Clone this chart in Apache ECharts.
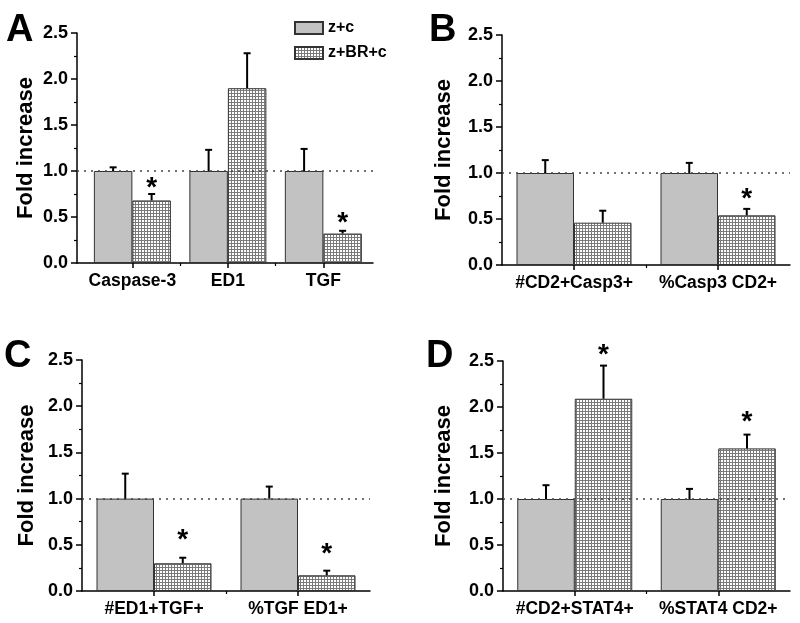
<!DOCTYPE html>
<html>
<head>
<meta charset="utf-8">
<script src="https://cdn.jsdelivr.net/npm/echarts@6/dist/echarts.min.js"></script>
<style>
  html, body { margin: 0; padding: 0; background: #fff; }
  #chart { width: 800px; height: 623px; }
</style>
</head>
<body>
<div id="chart"></div>
<script>
// panel A
var catA = ['Caspase-3', 'ED1', 'TGF'];
var zcA = [1, 1, 1];
var zcErrA = [0.04, 0.23, 0.24];
var brA = [0.68, 1.90, 0.32];
var brErrA = [0.07, 0.38, 0.03];
var starA = [0.88, null, 0.50];
// panel B
var catB = ['#CD2+Casp3+', '%Casp3 CD2+'];
var zcB = [1, 1];
var zcErrB = [0.14, 0.11];
var brB = [0.46, 0.54];
var brErrB = [0.13, 0.07];
var starB = [null, 0.78];
// panel C
var catC = ['#ED1+TGF+', '%TGF ED1+'];
var zcC = [1, 1];
var zcErrC = [0.27, 0.13];
var brC = [0.30, 0.17];
var brErrC = [0.06, 0.05];
var starC = [0.61, 0.46];
// panel D
var catD = ['#CD2+STAT4+', '%STAT4 CD2+'];
var zcD = [1, 1];
var zcErrD = [0.15, 0.11];
var brD = [2.09, 1.55];
var brErrD = [0.36, 0.15];
var starD = [2.63, 1.90];

var yTicks = [0, 0.5, 1.0, 1.5, 2.0, 2.5];

var FONT = 'Liberation Sans, Arial, sans-serif';

// hatch fill for the z+BR+c bars
var cv = document.createElement('canvas');
cv.width = 3; cv.height = 3;
var g = cv.getContext('2d');
g.fillStyle = '#ffffff';
g.fillRect(0, 0, 3, 3);
g.fillStyle = '#7a7a7a';
g.fillRect(0, 0, 3, 1);
g.fillRect(0, 0, 1, 3);
var hatch = { image: cv, repeat: 'repeat' };

// x positions: categories sit at 1, 2, 3 ... ; the axis range is a bit off-centre in panel A
var panels = [
    { cat: catA, zc: zcA, zcErr: zcErrA, br: brA, brErr: brErrA, star: starA, xMin: 0.42, xMax: 3.52,
      grid: { left: 77, top: 33, width: 296, height: 230 }, bw: 38.5, nameGap: 40, letter: 'A', lx: 6, ly: 12 },
    { cat: catB, zc: zcB, zcErr: zcErrB, br: brB, brErr: brErrB, star: starB, xMin: 0.5, xMax: 2.5,
      grid: { left: 502, top: 35, width: 288, height: 230 }, bw: 57.5, nameGap: 47, letter: 'B', lx: 429, ly: 12 },
    { cat: catC, zc: zcC, zcErr: zcErrC, br: brC, brErr: brErrC, star: starC, xMin: 0.5, xMax: 2.5,
      grid: { left: 82, top: 360, width: 288, height: 231 }, bw: 57.5, nameGap: 44, letter: 'C', lx: 4, ly: 338 },
    { cat: catD, zc: zcD, zcErr: zcErrD, br: brD, brErr: brErrD, star: starD, xMin: 0.5, xMax: 2.5,
      grid: { left: 503, top: 361, width: 287, height: 230 }, bw: 57.5, nameGap: 48, letter: 'D', lx: 426, ly: 338 }
];

var grids = [], xAxes = [], yAxes = [], series = [], graphics = [];

panels.forEach(function(p, i) {
    var pos = p.cat.map(function(c, k) { return k + 1; });
    var mids = pos.slice(1).map(function(v) { return v - 0.5; });
    var cat = p.cat;
    grids.push(p.grid);
    xAxes.push({
        type: 'value', gridIndex: i, position: 'bottom', min: p.xMin, max: p.xMax,
        splitLine: { show: false },
        axisLine: { onZero: false, lineStyle: { color: '#000', width: 1.5 } },
        axisTick: { show: true, customValues: pos, length: 5, lineStyle: { color: '#000', width: 1.5 } },
        axisLabel: {
            customValues: pos, color: '#000', fontFamily: FONT, fontWeight: 'bold', fontSize: 17.5, margin: 9,
            showMinLabel: true, showMaxLabel: true,
            formatter: function(v) { return cat[Math.round(v) - 1] || ''; }
        }
    });
    // short ticks between categories
    xAxes.push({
        type: 'value', gridIndex: i, position: 'bottom', min: p.xMin, max: p.xMax,
        splitLine: { show: false },
        axisLine: { show: false, onZero: false },
        axisTick: { show: true, customValues: mids, length: 3, lineStyle: { color: '#000', width: 1.2 } },
        axisLabel: { show: false }
    });
    yAxes.push({
        type: 'value', gridIndex: i, min: yTicks[0], max: yTicks[yTicks.length - 1], interval: 0.5,
        name: 'Fold increase', nameLocation: 'middle', nameGap: p.nameGap,
        nameTextStyle: { color: '#000', fontFamily: FONT, fontWeight: 'bold', fontSize: 22 },
        axisLine: { show: true, lineStyle: { color: '#000', width: 1.5 } },
        axisTick: { show: true, length: 6, lineStyle: { color: '#000', width: 1.5 } },
        minorTick: { show: true, splitNumber: 2, length: 3, lineStyle: { color: '#000', width: 1.2 } },
        splitLine: { show: false },
        axisLabel: {
            color: '#000', fontFamily: FONT, fontWeight: 'bold', fontSize: 18, margin: 9,
            formatter: function(v) { return v.toFixed(1); }
        }
    });
    var xi = i * 2;
    series.push({
        name: 'z+c', type: 'bar', xAxisIndex: xi, yAxisIndex: i,
        data: p.zc.map(function(v, k) { return [pos[k], v]; }),
        barWidth: p.bw, barGap: '0%',
        itemStyle: { color: '#c2c2c2', borderColor: '#333', borderWidth: 1 },
        markLine: {
            silent: true, symbol: ['none', 'none'], label: { show: false },
            lineStyle: { type: [2, 5], color: '#444', width: 1.5 },
            data: [{ yAxis: 1 }]
        }
    });
    series.push({
        name: 'z+BR+c', type: 'bar', xAxisIndex: xi, yAxisIndex: i,
        data: p.br.map(function(v, k) { return [pos[k], v]; }),
        barWidth: p.bw, barGap: '0%',
        itemStyle: { color: hatch, borderColor: '#333', borderWidth: 1 }
    });
    // error bars, upward only
    var errData = [];
    p.cat.forEach(function(c, k) {
        errData.push([pos[k], p.zc[k], p.zcErr[k], -1]);
        errData.push([pos[k], p.br[k], p.brErr[k], 1]);
    });
    var bw = p.bw;
    series.push({
        type: 'custom', xAxisIndex: xi, yAxisIndex: i, data: errData, z: 5,
        renderItem: function(params, api) {
            var base = api.coord([api.value(0), api.value(1)]);
            var top = api.coord([api.value(0), api.value(1) + api.value(2)]);
            var x = base[0] + api.value(3) * bw / 2;
            var st = { stroke: '#000', lineWidth: 2 };
            return {
                type: 'group',
                children: [
                    { type: 'line', shape: { x1: x, y1: base[1], x2: x, y2: top[1] }, style: st },
                    { type: 'line', shape: { x1: x - 3.5, y1: top[1], x2: x + 3.5, y2: top[1] }, style: st }
                ]
            };
        }
    });
    // significance stars over the z+BR+c bars
    var starData = [];
    p.star.forEach(function(s, k) {
        if (s !== null) starData.push([pos[k], s]);
    });
    series.push({
        type: 'custom', xAxisIndex: xi, yAxisIndex: i, data: starData, z: 6,
        renderItem: function(params, api) {
            var pt = api.coord([api.value(0), api.value(1)]);
            return {
                type: 'text',
                style: {
                    x: pt[0] + bw / 2, y: pt[1] + 6, text: '*',
                    font: 'bold 28px ' + FONT, fill: '#000',
                    align: 'center', verticalAlign: 'middle'
                }
            };
        }
    });
    graphics.push({
        type: 'text', left: p.lx, top: p.ly,
        style: { text: p.letter, font: 'bold 38px ' + FONT, fill: '#000' }
    });
});

var chart = echarts.init(document.getElementById('chart'));
chart.setOption({
    animation: false,
    backgroundColor: '#fff',
    grid: grids,
    xAxis: xAxes,
    yAxis: yAxes,
    legend: {
        data: ['z+c', 'z+BR+c'], orient: 'vertical', left: 289, top: 15,
        itemWidth: 28, itemHeight: 12, itemGap: 9, icon: 'rect',
        textStyle: { color: '#000', fontFamily: FONT, fontWeight: 'bold', fontSize: 16, lineHeight: 13 }
    },
    graphic: graphics,
    series: series
});
</script>
</body>
</html>
